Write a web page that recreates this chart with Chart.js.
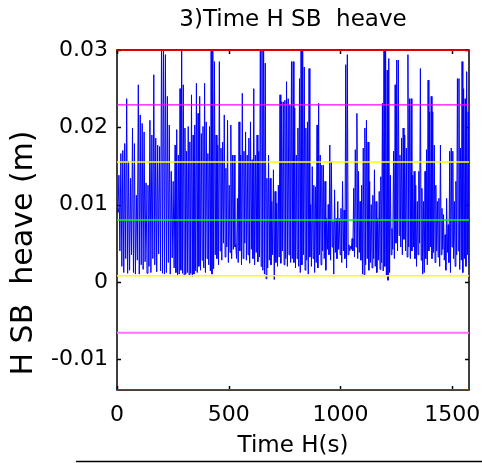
<!DOCTYPE html>
<html>
<head>
<meta charset="utf-8">
<script src="https://cdn.jsdelivr.net/npm/chart.js@4"></script>
<style>
html, body { margin: 0; padding: 0; background: #fff; }
</style>
</head>
<body>
<canvas id="heaveChart" width="482" height="463"></canvas>
<script>
// time axis
const xMax = 1575;
const xTicks = [0, 500, 1000, 1500];
// heave axis
const yMin = -0.014;
const yMax = 0.03;
const yTicks = [-0.01, 0, 0.01, 0.02, 0.03];

// heave signal, read off the plot as alternating peaks / troughs,
// in six stretches of time (s) given by segBounds
const segBounds = [0, 260, 524, 788, 1052, 1316, 1575];
const peaksA = [0.0095,0.0138,0.0166,0.0170,0.0179,0.0237,0.0156,0.0134,0.0199,0.0179,0.0112,0.0255,0.0216,0.0205,0.0194,
  0.0128,0.0125,0.0209,0.0190,0.0268,0.0186,0.0177,0.0175,0.0320,0.0320,0.0294,0.0240,0.0203,0.0143,0.0130];
const troughsA = [0.0090,0.0040,0.0020,0.0012,0.0030,0.0011,0.0015,0.0035,0.0012,0.0010,0.0028,0.0010,0.0022,0.0016,0.0026,
  0.0011,0.0020,0.0012,0.0030,0.0022,0.0013,0.0036,0.0014,0.0011,0.0010,0.0012,0.0025,0.0010,0.0031,0.0018];
const peaksB = [0.0177,0.0197,0.0164,0.0250,0.0310,0.0255,0.0199,0.0169,0.0201,0.0181,0.0242,0.0190,0.0203,0.0257,0.0218,
  0.0240,0.0192,0.0201,0.0257,0.0207,0.0166,0.0201,0.0320,0.0320,0.0285,0.0190,0.0177,0.0285,0.0173,0.0181,0.0216,0.0147,
  0.0209,0.0125,0.0203,0.0164];
const troughsB = [0.0012,0.0009,0.0010,0.0015,0.0011,0.0008,0.0010,0.0012,0.0009,0.0011,0.0007,0.0010,0.0014,0.0012,0.0020,
  0.0015,0.0028,0.0018,0.0012,0.0030,0.0022,0.0014,0.0010,0.0017,0.0035,0.0030,0.0022,0.0040,0.0028,0.0050,0.0032,0.0045,
  0.0025,0.0038,0.0030,0.0042];
const peaksC = [0.0164,0.0048,0.0108,0.0207,0.0164,0.0244,0.0169,0.0194,0.0164,0.0186,0.0207,0.0158,0.0250,0.0164,0.0190,
  0.0169,0.0320,0.0320,0.0320,0.0283,0.0134,0.0164,0.0134,0.0104,0.0145,0.0117,0.0102,0.0125,0.0242,0.0233,0.0233,0.0235,
  0.0259,0.0237,0.0229,0.0285];
const troughsC = [0.0045,0.0030,0.0025,0.0040,0.0022,0.0030,0.0050,0.0028,0.0035,0.0024,0.0042,0.0030,0.0022,0.0038,0.0026,
  0.0032,0.0020,0.0015,0.0010,0.0004,0.0018,0.0028,0.0022,0.0035,0.0003,0.0025,0.0020,0.0032,0.0024,0.0040,0.0022,0.0030,
  0.0020,0.0035,0.0025,0.0030];
const peaksD = [0.0285,0.0225,0.0164,0.0199,0.0263,0.0320,0.0320,0.0278,0.0199,0.0207,0.0276,0.0100,0.0149,0.0125,0.0123,
  0.0203,0.0231,0.0164,0.0151,0.0151,0.0130,0.0082,0.0100,0.0177,0.0156,0.0078,0.0119,0.0082,0.0104,0.0082,0.0095,0.0130,
  0.0093,0.0281,0.0294,0.0048,0.0046];
const troughsD = [0.0025,0.0018,0.0030,0.0020,0.0012,0.0022,0.0035,0.0015,0.0028,0.0010,0.0032,0.0020,0.0030,0.0012,0.0025,
  0.0018,0.0035,0.0022,0.0040,0.0030,0.0015,0.0042,0.0035,0.0028,0.0045,0.0010,0.0038,0.0030,0.0042,0.0035,0.0025,0.0040,
  0.0030,0.0018,0.0035,0.0040,0.0042];
const peaksE = [0.0056,0.0121,0.0171,0.0218,0.0143,0.0104,0.0125,0.0173,0.0199,0.0209,0.0181,0.0130,0.0100,0.0112,0.0145,
  0.0104,0.0082,0.0117,0.0136,0.0231,0.0320,0.0320,0.0274,0.0289,0.0138,0.0069,0.0169,0.0255,0.0287,0.0287,0.0164,0.0186,
  0.0199,0.0190,0.0173,0.0294,0.0237];
const troughsE = [0.0040,0.0032,0.0045,0.0030,0.0038,0.0028,0.0010,0.0009,0.0022,0.0030,0.0015,0.0025,0.0018,0.0030,0.0020,
  0.0012,0.0028,0.0016,0.0025,0.0014,0.0020,0.0008,0.0002,0.0012,0.0035,0.0042,0.0030,0.0050,0.0040,0.0060,0.0045,0.0035,
  0.0055,0.0040,0.0032,0.0045,0.0030];
const peaksF = [0.0237,0.0138,0.0143,0.0125,0.0104,0.0143,0.0276,0.0121,0.0104,0.0143,0.0171,0.0261,0.0220,0.0240,0.0220,
  0.0177,0.0125,0.0104,0.0108,0.0177,0.0095,0.0087,0.0061,0.0108,0.0074,0.0169,0.0173,0.0169,0.0104,0.0130,0.0263,0.0263,
  0.0173,0.0285,0.0250,0.0237,0.0272,0.0220];
const troughsF = [0.0040,0.0045,0.0030,0.0020,0.0035,0.0050,0.0028,0.0010,0.0012,0.0030,0.0022,0.0040,0.0045,0.0030,0.0038,
  0.0025,0.0040,0.0032,0.0020,0.0035,0.0042,0.0028,0.0015,0.0038,0.0025,0.0012,0.0045,0.0030,0.0020,0.0035,0.0040,0.0016,
  0.0028,0.0012,0.0030,0.0020,0.0035,0.0025];

// mean and +/- 1, 2, 3 sigma lines
const levelValues = [0.0300, 0.0229, 0.0155, 0.0080, 0.0008, -0.0066, -0.0140];
const levelColors = ['#e00000', '#ff00ff', '#ffff00', '#00ff00', '#ffff00', '#ff70ff', '#ff0000'];
const levelWidths = [2, 1.2, 1.5, 1.5, 1.5, 2, 2];

const font = 'DejaVu Sans';

// interleave peaks and troughs, spread each stretch over its own time span
const segments = [
    [peaksA, troughsA], [peaksB, troughsB], [peaksC, troughsC],
    [peaksD, troughsD], [peaksE, troughsE], [peaksF, troughsF],
];
const heavePoints = [];
segments.forEach(([pk, tr], s) => {
    const vals = [];
    pk.forEach((v, i) => {
        vals.push(v);
        if (tr[i] !== undefined) vals.push(tr[i]);
    });
    const t0 = segBounds[s], t1 = segBounds[s + 1];
    const last = s === segments.length - 1;
    const n = last ? vals.length - 1 : vals.length;
    vals.forEach((v, k) => heavePoints.push({ x: t0 + (t1 - t0) * k / n, y: v }));
});

const datasets = [{
    data: heavePoints,
    borderColor: '#0000ff',
    borderWidth: 1,
    pointRadius: 0,
    tension: 0,
    order: 2,
}];
levelValues.forEach((v, i) => {
    datasets.push({
        data: [{ x: 0, y: v }, { x: xMax, y: v }],
        borderColor: levelColors[i],
        borderWidth: levelWidths[i],
        pointRadius: 0,
        order: 1,
    });
});

// matlab style frame, inward ticks, y label and the stray line under the figure
const matlabFrame = {
    id: 'matlabFrame',
    beforeDatasetsDraw(chart) {
        const { ctx, chartArea: a, scales } = chart;
        ctx.save();
        ctx.strokeStyle = '#000';
        ctx.lineWidth = 1.5;
        ctx.strokeRect(a.left, a.top, a.right - a.left, a.bottom - a.top);
        ctx.beginPath();
        yTicks.forEach(v => {
            const y = Math.round(scales.y.getPixelForValue(v)) + 0.5;
            ctx.moveTo(a.left, y); ctx.lineTo(a.left + 4, y);
            ctx.moveTo(a.right, y); ctx.lineTo(a.right - 4, y);
        });
        xTicks.forEach(v => {
            const x = Math.round(scales.x.getPixelForValue(v)) + 0.5;
            ctx.moveTo(x, a.bottom); ctx.lineTo(x, a.bottom - 4);
            ctx.moveTo(x, a.top); ctx.lineTo(x, a.top + 4);
        });
        ctx.stroke();
        ctx.restore();
    },
    afterDraw(chart) {
        const { ctx } = chart;
        ctx.save();
        ctx.fillStyle = '#000';
        ctx.font = '30px "' + font + '"';
        ctx.textAlign = 'center';
        ctx.textBaseline = 'middle';
        ctx.translate(24, 253);
        ctx.rotate(-Math.PI / 2);
        ctx.fillText('H SB  heave (m)', 0, 0);
        ctx.restore();

        ctx.save();
        ctx.strokeStyle = '#000';
        ctx.lineWidth = 1.5;
        ctx.beginPath();
        ctx.moveTo(76, 461.5);
        ctx.lineTo(482, 461.5);
        ctx.stroke();
        ctx.restore();
    }
};

new Chart(document.getElementById('heaveChart'), {
    type: 'line',
    data: { datasets: datasets },
    options: {
        responsive: false,
        animation: false,
        layout: { padding: { left: 0, right: 13, top: 0, bottom: 0 } },
        plugins: {
            legend: { display: false },
            tooltip: { enabled: false },
            title: {
                display: true,
                fullSize: false,
                text: '3)Time H SB  heave',
                color: '#000',
                font: { family: font, size: 23, weight: 'normal' },
                padding: { top: 6, bottom: 16.4 },
            },
        },
        scales: {
            x: {
                type: 'linear',
                min: 0,
                max: xMax,
                grid: { display: false, drawTicks: false },
                border: { display: false },
                afterBuildTicks: s => { s.ticks = xTicks.map(v => ({ value: v })); },
                afterFit: s => { s.height = 73; s.paddingLeft = 0; s.paddingRight = 0; },
                ticks: {
                    color: '#000',
                    font: { family: font, size: 22 },
                    padding: 12,
                    maxRotation: 0,
                    callback: v => String(v),
                },
                title: {
                    display: true,
                    text: 'Time H(s)',
                    color: '#000',
                    font: { family: font, size: 23 },
                    padding: { top: 0, bottom: 3 },
                },
            },
            y: {
                min: yMin,
                max: yMax,
                grid: { display: false, drawTicks: false },
                border: { display: false },
                afterBuildTicks: s => { s.ticks = yTicks.map(v => ({ value: v })); },
                afterFit: s => { s.width = 117; s.paddingTop = 0; s.paddingBottom = 0; },
                ticks: {
                    color: '#000',
                    font: { family: font, size: 22 },
                    padding: 9,
                    callback: v => String(parseFloat(v.toFixed(3))),
                },
            },
        },
    },
    plugins: [matlabFrame],
});
</script>
</body>
</html>
